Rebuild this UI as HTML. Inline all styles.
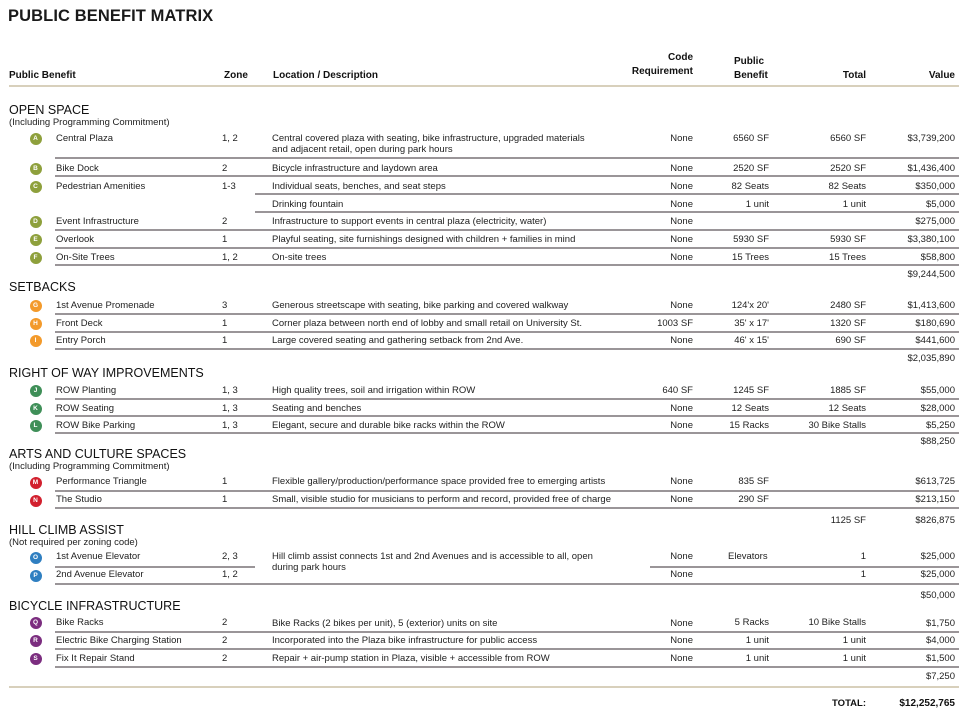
<!DOCTYPE html>
<html><head><meta charset="utf-8"><style>
body{margin:0;width:974px;height:716px;background:#fff;position:relative;overflow:hidden;font-family:"Liberation Sans",sans-serif;color:#222}
div{position:absolute;white-space:nowrap}
.t,.h,.s,.sub{margin-top:1px}
.t{font-size:9.5px;line-height:12px}
.r{text-align:right}
.h{font-size:10px;font-weight:bold;line-height:12px;color:#111}
.s{font-size:12.5px;line-height:14px;color:#111}
.sub{font-size:9.5px;line-height:11px}
.ln{height:1.5px;background:#9a9598}
.tan{height:2px;background:#d8d0bc}
.c{width:12px;height:12px;border-radius:50%;color:#fff;font-size:6.5px;font-weight:bold;line-height:12px;text-align:center;margin-left:-0.5px;margin-top:-0.5px}
</style></head><body>
<div style="left:8px;top:6px;font-size:16.5px;font-weight:bold;line-height:20px;letter-spacing:0.1px;color:#1a1a1a">PUBLIC BENEFIT MATRIX</div>

<div class="h" style="left:9px;top:69px">Public Benefit</div>
<div class="h" style="left:224px;top:69px">Zone</div>
<div class="h" style="left:273px;top:69px">Location / Description</div>
<div class="h r" style="right:281px;top:51px">Code</div>
<div class="h r" style="right:281px;top:65px">Requirement</div>
<div class="h" style="left:734px;top:55px">Public</div>
<div class="h" style="left:734px;top:69px">Benefit</div>
<div class="h r" style="right:108px;top:69px">Total</div>
<div class="h r" style="right:19px;top:69px">Value</div>
<div class="tan" style="left:9px;width:950px;top:85px"></div>

<div class="s" style="left:9px;top:102px">OPEN SPACE</div>
<div class="sub" style="left:9px;top:116px">(Including Programming Commitment)</div>

<div class="c" style="left:30px;top:133px;background:#8ea03c">A</div>
<div class="t" style="left:56px;top:132px">Central Plaza</div>
<div class="t" style="left:222px;top:132px">1, 2</div>
<div class="t" style="left:272px;top:132px">Central covered plaza with seating, bike infrastructure, upgraded materials</div>
<div class="t" style="left:272px;top:143px">and adjacent retail, open during park hours</div>
<div class="t r" style="right:281px;top:132px">None</div>
<div class="t r" style="right:205px;top:132px">6560 SF</div>
<div class="t r" style="right:108px;top:132px">6560 SF</div>
<div class="t r" style="right:19px;top:132px">$3,739,200</div>
<div class="ln" style="left:55px;width:904px;top:157px"></div>

<div class="c" style="left:30px;top:163px;background:#8ea03c">B</div>
<div class="t" style="left:56px;top:162px">Bike Dock</div>
<div class="t" style="left:222px;top:162px">2</div>
<div class="t" style="left:272px;top:162px">Bicycle infrastructure and laydown area</div>
<div class="t r" style="right:281px;top:162px">None</div>
<div class="t r" style="right:205px;top:162px">2520 SF</div>
<div class="t r" style="right:108px;top:162px">2520 SF</div>
<div class="t r" style="right:19px;top:162px">$1,436,400</div>
<div class="ln" style="left:55px;width:904px;top:175px"></div>

<div class="c" style="left:30px;top:181px;background:#8ea03c">C</div>
<div class="t" style="left:56px;top:180px">Pedestrian Amenities</div>
<div class="t" style="left:222px;top:180px">1-3</div>
<div class="t" style="left:272px;top:180px">Individual seats, benches, and seat steps</div>
<div class="t r" style="right:281px;top:180px">None</div>
<div class="t r" style="right:205px;top:180px">82 Seats</div>
<div class="t r" style="right:108px;top:180px">82 Seats</div>
<div class="t r" style="right:19px;top:180px">$350,000</div>
<div class="ln" style="left:255px;width:704px;top:193px"></div>

<div class="t" style="left:272px;top:198px">Drinking fountain</div>
<div class="t r" style="right:281px;top:198px">None</div>
<div class="t r" style="right:205px;top:198px">1 unit</div>
<div class="t r" style="right:108px;top:198px">1 unit</div>
<div class="t r" style="right:19px;top:198px">$5,000</div>
<div class="ln" style="left:255px;width:704px;top:211px"></div>

<div class="c" style="left:30px;top:216px;background:#8ea03c">D</div>
<div class="t" style="left:56px;top:215px">Event Infrastructure</div>
<div class="t" style="left:222px;top:215px">2</div>
<div class="t" style="left:272px;top:215px">Infrastructure to support events in central plaza (electricity, water)</div>
<div class="t r" style="right:281px;top:215px">None</div>
<div class="t r" style="right:19px;top:215px">$275,000</div>
<div class="ln" style="left:55px;width:904px;top:229px"></div>

<div class="c" style="left:30px;top:234px;background:#8ea03c">E</div>
<div class="t" style="left:56px;top:233px">Overlook</div>
<div class="t" style="left:222px;top:233px">1</div>
<div class="t" style="left:272px;top:233px">Playful seating, site furnishings designed with children + families in mind</div>
<div class="t r" style="right:281px;top:233px">None</div>
<div class="t r" style="right:205px;top:233px">5930 SF</div>
<div class="t r" style="right:108px;top:233px">5930 SF</div>
<div class="t r" style="right:19px;top:233px">$3,380,100</div>
<div class="ln" style="left:55px;width:904px;top:247px"></div>

<div class="c" style="left:30px;top:252px;background:#8ea03c">F</div>
<div class="t" style="left:56px;top:251px">On-Site Trees</div>
<div class="t" style="left:222px;top:251px">1, 2</div>
<div class="t" style="left:272px;top:251px">On-site trees</div>
<div class="t r" style="right:281px;top:251px">None</div>
<div class="t r" style="right:205px;top:251px">15 Trees</div>
<div class="t r" style="right:108px;top:251px">15 Trees</div>
<div class="t r" style="right:19px;top:251px">$58,800</div>
<div class="ln" style="left:55px;width:904px;top:264px"></div>
<div class="t r" style="right:19px;top:268px">$9,244,500</div>

<div class="s" style="left:9px;top:279px">SETBACKS</div>
<div class="c" style="left:30px;top:300px;background:#f39a2b">G</div>
<div class="t" style="left:56px;top:299px">1st Avenue Promenade</div>
<div class="t" style="left:222px;top:299px">3</div>
<div class="t" style="left:272px;top:299px">Generous streetscape with seating, bike parking and covered walkway</div>
<div class="t r" style="right:281px;top:299px">None</div>
<div class="t r" style="right:205px;top:299px">124'x 20'</div>
<div class="t r" style="right:108px;top:299px">2480 SF</div>
<div class="t r" style="right:19px;top:299px">$1,413,600</div>
<div class="ln" style="left:55px;width:904px;top:313px"></div>

<div class="c" style="left:30px;top:318px;background:#f39a2b">H</div>
<div class="t" style="left:56px;top:317px">Front Deck</div>
<div class="t" style="left:222px;top:317px">1</div>
<div class="t" style="left:272px;top:317px">Corner plaza between north end of lobby and small retail on University St.</div>
<div class="t r" style="right:281px;top:317px">1003 SF</div>
<div class="t r" style="right:205px;top:317px">35' x 17'</div>
<div class="t r" style="right:108px;top:317px">1320 SF</div>
<div class="t r" style="right:19px;top:317px">$180,690</div>
<div class="ln" style="left:55px;width:904px;top:331px"></div>

<div class="c" style="left:30px;top:335px;background:#f39a2b">I</div>
<div class="t" style="left:56px;top:334px">Entry Porch</div>
<div class="t" style="left:222px;top:334px">1</div>
<div class="t" style="left:272px;top:334px">Large covered seating and gathering  setback from 2nd Ave.</div>
<div class="t r" style="right:281px;top:334px">None</div>
<div class="t r" style="right:205px;top:334px">46' x 15'</div>
<div class="t r" style="right:108px;top:334px">690 SF</div>
<div class="t r" style="right:19px;top:334px">$441,600</div>
<div class="ln" style="left:55px;width:904px;top:348px"></div>
<div class="t r" style="right:19px;top:352px">$2,035,890</div>

<div class="s" style="left:9px;top:365px">RIGHT OF WAY IMPROVEMENTS</div>
<div class="c" style="left:30px;top:385px;background:#3f8f58">J</div>
<div class="t" style="left:56px;top:384px">ROW Planting</div>
<div class="t" style="left:222px;top:384px">1, 3</div>
<div class="t" style="left:272px;top:384px">High quality trees, soil and irrigation within ROW</div>
<div class="t r" style="right:281px;top:384px">640 SF</div>
<div class="t r" style="right:205px;top:384px">1245 SF</div>
<div class="t r" style="right:108px;top:384px">1885 SF</div>
<div class="t r" style="right:19px;top:384px">$55,000</div>
<div class="ln" style="left:55px;width:904px;top:398px"></div>

<div class="c" style="left:30px;top:403px;background:#3f8f58">K</div>
<div class="t" style="left:56px;top:402px">ROW Seating</div>
<div class="t" style="left:222px;top:402px">1, 3</div>
<div class="t" style="left:272px;top:402px">Seating and benches</div>
<div class="t r" style="right:281px;top:402px">None</div>
<div class="t r" style="right:205px;top:402px">12 Seats</div>
<div class="t r" style="right:108px;top:402px">12 Seats</div>
<div class="t r" style="right:19px;top:402px">$28,000</div>
<div class="ln" style="left:55px;width:904px;top:415px"></div>

<div class="c" style="left:30px;top:420px;background:#3f8f58">L</div>
<div class="t" style="left:56px;top:419px">ROW Bike Parking</div>
<div class="t" style="left:222px;top:419px">1, 3</div>
<div class="t" style="left:272px;top:419px">Elegant, secure and durable bike racks within the ROW</div>
<div class="t r" style="right:281px;top:419px">None</div>
<div class="t r" style="right:205px;top:419px">15 Racks</div>
<div class="t r" style="right:108px;top:419px">30 Bike Stalls</div>
<div class="t r" style="right:19px;top:419px">$5,250</div>
<div class="ln" style="left:55px;width:904px;top:432px"></div>
<div class="t r" style="right:19px;top:435px">$88,250</div>

<div class="s" style="left:9px;top:446px">ARTS AND CULTURE SPACES</div>
<div class="sub" style="left:9px;top:460px">(Including Programming Commitment)</div>
<div class="c" style="left:30px;top:477px;background:#d2202e">M</div>
<div class="t" style="left:56px;top:475px">Performance Triangle</div>
<div class="t" style="left:222px;top:475px">1</div>
<div class="t" style="left:272px;top:475px">Flexible gallery/production/performance space provided free to emerging artists</div>
<div class="t r" style="right:281px;top:475px">None</div>
<div class="t r" style="right:205px;top:475px">835 SF</div>
<div class="t r" style="right:19px;top:475px">$613,725</div>
<div class="ln" style="left:55px;width:904px;top:490px"></div>

<div class="c" style="left:30px;top:495px;background:#d2202e">N</div>
<div class="t" style="left:56px;top:493px">The Studio</div>
<div class="t" style="left:222px;top:493px">1</div>
<div class="t" style="left:272px;top:493px">Small, visible studio for musicians to perform and record, provided free of charge</div>
<div class="t r" style="right:281px;top:493px">None</div>
<div class="t r" style="right:205px;top:493px">290 SF</div>
<div class="t r" style="right:19px;top:493px">$213,150</div>
<div class="ln" style="left:55px;width:904px;top:507px"></div>
<div class="t r" style="right:108px;top:514px">1125 SF</div>
<div class="t r" style="right:19px;top:514px">$826,875</div>

<div class="s" style="left:9px;top:522px">HILL CLIMB ASSIST</div>
<div class="sub" style="left:9px;top:536px">(Not required per zoning code)</div>
<div class="c" style="left:30px;top:552px;background:#2f7fc1">O</div>
<div class="t" style="left:56px;top:550px">1st Avenue Elevator</div>
<div class="t" style="left:222px;top:550px">2, 3</div>
<div class="t" style="left:272px;top:550px">Hill climb assist connects 1st and 2nd Avenues and is accessible to all, open</div>
<div class="t" style="left:272px;top:561px">during park hours</div>
<div class="t r" style="right:281px;top:550px">None</div>
<div class="t" style="left:728px;top:550px">Elevators</div>
<div class="t r" style="right:108px;top:550px">1</div>
<div class="t r" style="right:19px;top:550px">$25,000</div>
<div class="ln" style="left:55px;width:200px;top:566px"></div>
<div class="ln" style="left:650px;width:309px;top:566px"></div>

<div class="c" style="left:30px;top:570px;background:#2f7fc1">P</div>
<div class="t" style="left:56px;top:568px">2nd Avenue Elevator</div>
<div class="t" style="left:222px;top:568px">1, 2</div>
<div class="t r" style="right:281px;top:568px">None</div>
<div class="t r" style="right:108px;top:568px">1</div>
<div class="t r" style="right:19px;top:568px">$25,000</div>
<div class="ln" style="left:55px;width:904px;top:583px"></div>
<div class="t r" style="right:19px;top:589px">$50,000</div>

<div class="s" style="left:9px;top:598px">BICYCLE INFRASTRUCTURE</div>
<div class="c" style="left:30px;top:617px;background:#7b2d7f">Q</div>
<div class="t" style="left:56px;top:616px">Bike Racks</div>
<div class="t" style="left:222px;top:616px">2</div>
<div class="t" style="left:272px;top:617px">Bike Racks (2 bikes per unit), 5 (exterior) units on site</div>
<div class="t r" style="right:281px;top:617px">None</div>
<div class="t r" style="right:205px;top:616px">5 Racks</div>
<div class="t r" style="right:108px;top:616px">10 Bike Stalls</div>
<div class="t r" style="right:19px;top:617px">$1,750</div>
<div class="ln" style="left:55px;width:904px;top:631px"></div>

<div class="c" style="left:30px;top:635px;background:#7b2d7f">R</div>
<div class="t" style="left:56px;top:634px">Electric Bike Charging Station</div>
<div class="t" style="left:222px;top:634px">2</div>
<div class="t" style="left:272px;top:634px">Incorporated into the Plaza bike infrastructure for public access</div>
<div class="t r" style="right:281px;top:634px">None</div>
<div class="t r" style="right:205px;top:634px">1 unit</div>
<div class="t r" style="right:108px;top:634px">1 unit</div>
<div class="t r" style="right:19px;top:634px">$4,000</div>
<div class="ln" style="left:55px;width:904px;top:648px"></div>

<div class="c" style="left:30px;top:653px;background:#7b2d7f">S</div>
<div class="t" style="left:56px;top:652px">Fix It Repair Stand</div>
<div class="t" style="left:222px;top:652px">2</div>
<div class="t" style="left:272px;top:652px">Repair + air-pump station in Plaza, visible + accessible from ROW</div>
<div class="t r" style="right:281px;top:652px">None</div>
<div class="t r" style="right:205px;top:652px">1 unit</div>
<div class="t r" style="right:108px;top:652px">1 unit</div>
<div class="t r" style="right:19px;top:652px">$1,500</div>
<div class="ln" style="left:55px;width:904px;top:666px"></div>
<div class="t r" style="right:19px;top:670px">$7,250</div>
<div class="tan" style="left:9px;width:950px;top:686px"></div>

<div class="h r" style="right:108px;top:697px;font-size:9.5px">TOTAL:</div>
<div class="h r" style="right:19px;top:697px">$12,252,765</div>
</body></html>
